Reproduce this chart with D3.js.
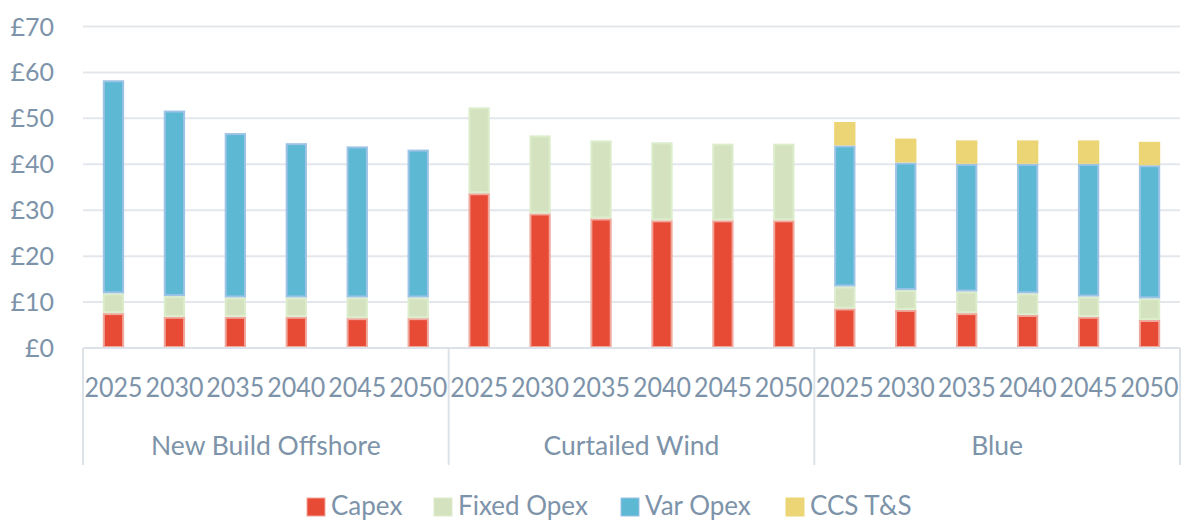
<!DOCTYPE html>
<html>
<head>
<meta charset="utf-8">
<script src="https://cdn.jsdelivr.net/npm/d3@7"></script>
<style>
  body { margin: 0; background: #fff; }
  text { font-family: Lato, "Open Sans", sans-serif; fill: #7d93a9; }
</style>
</head>
<body>
<div id="content"></div>
<script>
const groups = ['New Build Offshore', 'Curtailed Wind', 'Blue'];
const years = ['2025', '2030', '2035', '2040', '2045', '2050'];
const seriesNames = ['Capex', 'Fixed Opex', 'Var Opex', 'CCS T&S'];

// values per bar, in group order (NBO x6, Curtailed x6, Blue x6)
const capex     = [7.6, 6.8, 6.8, 6.8, 6.5, 6.5,  33.7, 29.3, 28.2, 27.8, 27.8, 27.8,  8.6, 8.3, 7.6, 7.2, 6.8, 6.1];
const fixedOpex = [4.3, 4.5, 4.2, 4.2, 4.5, 4.5,  18.7, 17.0, 17.0, 17.0, 16.7, 16.7,  4.8, 4.3, 4.7, 4.7, 4.4, 4.7];
const varOpex   = [46.4, 40.4, 35.8, 33.6, 32.9, 32.2,  0, 0, 0, 0, 0, 0,  30.7, 27.8, 27.8, 28.2, 28.9, 29.0];
const ccsTS     = [0, 0, 0, 0, 0, 0,  0, 0, 0, 0, 0, 0,  5.1, 5.2, 5.1, 5.1, 5.1, 5.1];
const yTicks = [0, 10, 20, 30, 40, 50, 60, 70];

const colors = ['#e84b35', '#d5e2bf', '#5db8d3', '#ecd575'];
const strokes = ['#f0a89c', '#dcedcc', '#9dc3e6', '#ecd575'];

const width = 1189;
const height = 522;
const plotLeft = 83, plotRight = 1180, plotTop = 26.5, plotBottom = 348;

const rows = [];
groups.forEach((g, gi) => {
    years.forEach((yr, yi) => {
        const i = gi * years.length + yi;
        rows.push({
            key: g + '|' + yr, group: g, year: yr,
            'Capex': capex[i], 'Fixed Opex': fixedOpex[i],
            'Var Opex': varOpex[i], 'CCS T&S': ccsTS[i]
        });
    });
});

const stacked = d3.stack().keys(seriesNames)(rows);

const x = d3.scaleBand()
    .domain(rows.map(d => d.key))
    .range([plotLeft, plotRight])
    .paddingInner(0.65)
    .paddingOuter(0.325);

const y = d3.scaleLinear()
    .domain([0, 70])
    .range([plotBottom, plotTop]);

const svg = d3.select('#content')
    .append('svg')
    .attr('width', width)
    .attr('height', height);

// gridlines
svg.append('g')
    .selectAll('line')
    .data(yTicks.slice(1))
    .join('line')
    .attr('x1', plotLeft)
    .attr('x2', plotRight)
    .attr('y1', d => y(d))
    .attr('y2', d => y(d))
    .attr('stroke', '#e3e7ec')
    .attr('stroke-width', 2);

// y labels
svg.append('g')
    .selectAll('text')
    .data(yTicks)
    .join('text')
    .attr('x', 54)
    .attr('y', d => y(d))
    .attr('dy', '0.36em')
    .attr('text-anchor', 'end')
    .attr('font-size', 25)
    .text(d => '£' + d);

// bars
svg.append('g')
    .selectAll('g')
    .data(stacked)
    .join('g')
    .attr('fill', (d, i) => colors[i])
    .attr('stroke', (d, i) => strokes[i])
    .selectAll('rect')
    .data(d => d.filter(p => p[1] - p[0] > 0))
    .join('rect')
    .attr('x', d => x(d.data.key) + 1)
    .attr('y', d => y(d[1]) + 1)
    .attr('width', x.bandwidth() - 2)
    .attr('height', d => Math.max(0, y(d[0]) - y(d[1]) - 2))
    .attr('stroke-width', 2);

// bottom axis
svg.append('line')
    .attr('x1', plotLeft).attr('x2', plotRight)
    .attr('y1', plotBottom).attr('y2', plotBottom)
    .attr('stroke', '#dde2e8')
    .attr('stroke-width', 2);

const groupEdges = [0, 1, 2, 3].map(i => i === 3 ? plotRight : x(groups[i] + '|' + years[0]) - x.step() * x.paddingOuter());
svg.append('g')
    .selectAll('line')
    .data(groupEdges)
    .join('line')
    .attr('x1', d => d).attr('x2', d => d)
    .attr('y1', plotBottom).attr('y2', 465)
    .attr('stroke', '#dde2e8')
    .attr('stroke-width', 2);

// year labels
svg.append('g')
    .selectAll('text')
    .data(rows)
    .join('text')
    .attr('x', d => x(d.key) + x.bandwidth() / 2)
    .attr('y', 397)
    .attr('text-anchor', 'middle')
    .attr('font-size', 27)
    .attr('textLength', 58)
    .attr('lengthAdjust', 'spacingAndGlyphs')
    .text(d => d.year);

// group labels
svg.append('g')
    .selectAll('text')
    .data(groups)
    .join('text')
    .attr('x', (d, i) => (groupEdges[i] + groupEdges[i + 1]) / 2)
    .attr('y', 455)
    .attr('text-anchor', 'middle')
    .attr('font-size', 26.5)
    .text(d => d);

// legend
const legendX = [307, 434, 621, 786];
const legend = svg.append('g')
    .selectAll('g')
    .data(seriesNames)
    .join('g')
    .attr('transform', (d, i) => `translate(${legendX[i]},498)`);

legend.append('rect')
    .attr('width', 18)
    .attr('height', 18)
    .attr('fill', (d, i) => colors[i])
    .attr('stroke', (d, i) => strokes[i])
    .attr('stroke-width', 1);

legend.append('text')
    .attr('x', 24)
    .attr('y', 17)
    .attr('font-size', 26)
    .text(d => d);
</script>
</body>
</html>
